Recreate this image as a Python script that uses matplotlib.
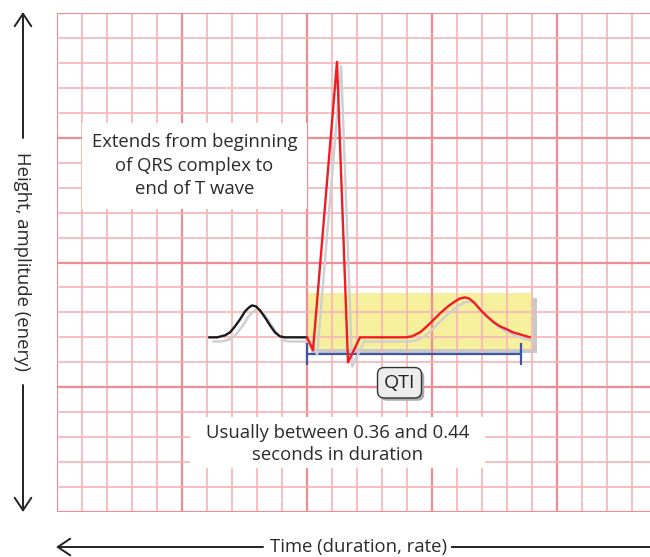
import matplotlib
matplotlib.use("Agg")
import matplotlib.pyplot as plt
import matplotlib.patheffects as pe
from matplotlib.patches import Rectangle
from matplotlib.lines import Line2D
import numpy as np

plt.rcParams['font.family'] = ['Open Sans', 'DejaVu Sans']

# ---------------- data (grid units: 1 = one small box) ----------------
p_wave_x = [6.08, 6.40, 6.72, 6.92, 7.12, 7.32, 7.52, 7.68, 7.80, 7.96, 8.12,
            8.32, 8.52, 8.72, 8.92, 9.12, 10.0]
p_wave_y = [7.0, 7.0, 7.08, 7.2, 7.44, 7.72, 8.04, 8.2, 8.28, 8.24, 8.08,
            7.8, 7.48, 7.2, 7.04, 7.0, 7.0]

qt_x = [10.0, 10.24, 11.2, 11.64, 12.12, 13.92, 14.2, 14.52, 14.8, 15.04, 15.32,
        15.64, 15.92, 16.12, 16.32, 16.48, 16.68, 16.92, 17.2, 17.48, 17.72,
        18.0, 18.24, 18.52, 18.92]
qt_y = [7.0, 6.48, 18.04, 6.0, 7.0, 7.0, 7.04, 7.2, 7.44, 7.68, 7.96,
        8.24, 8.44, 8.56, 8.6, 8.56, 8.4, 8.12, 7.84, 7.6, 7.44,
        7.32, 7.2, 7.12, 7.0]

qt_box = (10.0, 19.04, 6.52, 8.76)      # x0, x1, y0, y1
qti_bracket = (10.0, 18.56, 6.32)      # start, end, level
qti_label = "QTI"
note_top = "Extends from beginning\nof QRS complex to\nend of T wave"
note_bottom = "Usually between 0.36 and 0.44\nseconds in duration"
y_label = "Height, amplitude (enery)"
x_label = "Time (duration, rate)"

W, H = 650, 557
fig = plt.figure(figsize=(6.5, 5.57), dpi=100)
fig.patch.set_facecolor('white')

# grid area
ax = fig.add_axes([57 / W, 45 / H, 593 / W, 499 / H])
ax.set_xlim(0, 593 / 25)
ax.set_ylim(0, 20)
ax.axis('off')

major_c = '#f08d94'
minor_c = '#f7b3b8'
for gx in np.arange(0, 24, 1):
    if gx % 5 == 0:
        ax.axvline(gx, color=major_c, lw=1.6, zorder=2)
    else:
        ax.axvline(gx, color=minor_c, lw=1.2, zorder=2)
for gy in np.arange(0, 21, 1):
    if gy % 5 == 0:
        ax.axhline(gy, color=major_c, lw=1.6, zorder=2)
    else:
        ax.axhline(gy, color=minor_c, lw=1.2, zorder=2)

# yellow QT box with shadow
x0, x1, y0, y1 = qt_box
rect = Rectangle((x0, y0), x1 - x0, y1 - y0, facecolor='#f6f09c', edgecolor='none', zorder=1.5,
                 path_effects=[pe.SimplePatchShadow(offset=(3, -3), shadow_rgbFace='#c8c8c8', alpha=1.0),
                               pe.Normal()])
ax.add_patch(rect)

# bracket
bx0, bx1, by = qti_bracket
blue = '#3c56a5'
ax.plot([bx0, bx1], [by, by], color=blue, lw=1.6, zorder=3, solid_capstyle='butt')
for bx in (bx0, bx1):
    ax.plot([bx, bx], [by - 0.44, by + 0.44], color=blue, lw=1.6, zorder=3, solid_capstyle='butt')

shadow = [pe.SimpleLineShadow(offset=(3, -3), shadow_color='#cfcfcf', alpha=1.0), pe.Normal()]
ax.plot(p_wave_x, p_wave_y, color='#1a1a1a', lw=1.7, zorder=4, path_effects=shadow,
        solid_joinstyle='round', solid_capstyle='round')
ax.plot(qt_x, qt_y, color='#ee1c24', lw=1.7, zorder=5, path_effects=shadow,
        solid_joinstyle='round', solid_capstyle='round')

# QTI label
t = ax.text(13.7, 5.18, qti_label, ha='center', va='center', fontsize=14, color='#222222', zorder=6,
            bbox=dict(boxstyle='round,pad=0.32,rounding_size=0.35', facecolor='#ececec',
                      edgecolor='#333333', lw=1.0))
t.get_bbox_patch().set_path_effects([pe.SimplePatchShadow(offset=(2, -2), shadow_rgbFace='#aaaaaa', alpha=1.0),
                                     pe.Normal()])

# note boxes
fs = 13.3
ax.add_patch(Rectangle((1.0, 12.16), 9.0, 3.44, facecolor='white', edgecolor='none', zorder=6))
ax.text(5.5, 13.88, note_top, ha='center', va='center', fontsize=fs, color='#2b2b2b',
        linespacing=1.4, zorder=7)
ax.add_patch(Rectangle((5.32, 1.76), 11.8, 2.04, facecolor='white', edgecolor='none', zorder=6))
ax.text(11.22, 2.74, note_bottom, ha='center', va='center', fontsize=fs, color='#2b2b2b',
        linespacing=1.3, zorder=7)

# axis arrows (figure pixels, origin bottom-left)
ac = '#222222'
arrow = dict(arrowstyle='->,head_length=0.45,head_width=0.3', lw=1.4, color=ac,
             mutation_scale=20, shrinkA=0, shrinkB=0)
ax.annotate('', xy=(23, H - 12), xytext=(23, H - 138), xycoords='figure pixels',
            textcoords='figure pixels', arrowprops=arrow, annotation_clip=False)
ax.annotate('', xy=(23, H - 512), xytext=(23, H - 385), xycoords='figure pixels',
            textcoords='figure pixels', arrowprops=arrow, annotation_clip=False)
fig.text(22 / W, (H - 261) / H, y_label, rotation=270, ha='center', va='center',
         fontsize=fs, color='#2b2b2b')

ax.annotate('', xy=(56, H - 547), xytext=(263, H - 547), xycoords='figure pixels',
            textcoords='figure pixels', arrowprops=arrow, annotation_clip=False)
fig.add_artist(Line2D([452 / W, 1.0], [(H - 547) / H] * 2, color=ac, lw=1.4))
fig.text(358 / W, (H - 547) / H, x_label, ha='center', va='center', fontsize=fs, color='#2b2b2b')

fig.savefig('out.png', dpi=100, facecolor='white')
